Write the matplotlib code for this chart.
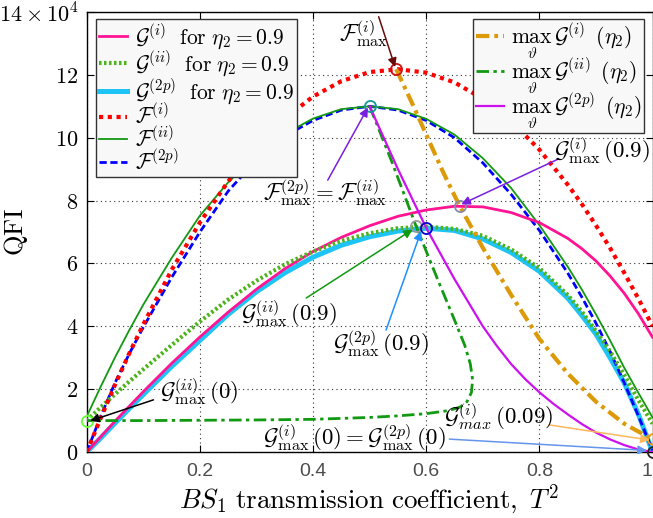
import matplotlib
matplotlib.use("Agg")
import matplotlib.pyplot as plt
from matplotlib.lines import Line2D

# ---------------- data (values in units of 1e4) ----------------
T2 = [0, 0.025, 0.05, 0.075, 0.1, 0.15, 0.2, 0.25, 0.3, 0.35, 0.4, 0.45,
      0.5, 0.55, 0.6, 0.65, 0.7, 0.75, 0.8, 0.85, 0.875, 0.9, 0.925, 0.95, 0.975, 1.0]

F_i = [0, 1.09, 2.14, 3.13, 4.06, 5.79, 7.30, 8.61, 9.71, 10.61, 11.31, 11.80,
       12.09, 12.18, 12.07, 11.76, 11.24, 10.53, 9.62, 8.51, 7.89, 7.21, 6.49, 5.70, 4.88, 4.0]
F_ii = [1.13, 2.09, 3.01, 3.87, 4.69, 6.17, 7.52, 8.58, 9.45, 10.12, 10.61, 10.91,
        11.0, 10.91, 10.6, 10.1, 9.35, 8.4, 7.22, 5.9, 5.17, 4.38, 3.55, 2.68, 1.88, 1.1]
F_2p = [0, 1.15, 2.2, 3.12, 3.97, 5.55, 7.0, 8.3, 9.3, 10.05, 10.55, 10.88,
        11.0, 10.88, 10.55, 10.0, 9.2, 8.2, 7.05, 5.7, 4.93, 4.1, 3.2, 2.2, 1.15, 0.05]

G_i = [0, 0.49, 0.98, 1.45, 1.92, 2.82, 3.66, 4.45, 5.18, 5.83, 6.38, 6.83,
       7.2, 7.5, 7.7, 7.82, 7.8, 7.62, 7.3, 6.8, 6.47, 6.08, 5.6, 5.05, 4.4, 3.65]
G_ii = [1.0, 1.43, 1.84, 2.24, 2.63, 3.4, 4.15, 4.85, 5.45, 5.97, 6.38, 6.72,
        6.96, 7.12, 7.17, 7.1, 6.88, 6.45, 5.85, 5.0, 4.47, 3.85, 3.2, 2.45, 1.65, 0.9]
G_2p = [0, 0.45, 0.92, 1.38, 1.83, 2.72, 3.55, 4.38, 5.1, 5.7, 6.2, 6.58,
        6.85, 7.03, 7.12, 7.05, 6.78, 6.35, 5.75, 4.9, 4.35, 3.75, 3.0, 2.2, 1.2, 0.0]

# maxima over theta as functions of eta_2 (parametric curves)
maxGi_x = [0.547, 0.575, 0.6, 0.63, 0.659, 0.7, 0.75, 0.8, 0.85, 0.9, 0.95, 1.0]
maxGi_y = [12.18, 11.1, 10.1, 8.9, 7.83, 6.5, 5.0, 3.6, 2.5, 1.6, 0.9, 0.4]

maxGii_x = [0.5, 0.54, 0.582, 0.62, 0.65, 0.668, 0.678, 0.682, 0.68, 0.672, 0.66,
            0.64, 0.6, 0.55, 0.5, 0.4, 0.3, 0.2, 0.1, 0.0]
maxGii_y = [11.0, 9.2, 7.19, 5.5, 4.2, 3.4, 2.8, 2.3, 1.9, 1.6, 1.43,
            1.32, 1.22, 1.15, 1.1, 1.04, 1.02, 1.01, 1.0, 1.0]

maxG2p_x = [0.5, 0.55, 0.6, 0.65, 0.7, 0.725, 0.75, 0.775, 0.8, 0.825, 0.85,
            0.875, 0.9, 0.925, 0.95, 0.975, 1.0]
maxG2p_y = [11.0, 9.0, 7.13, 5.5, 4.0, 3.37, 2.8, 2.32, 1.9, 1.53, 1.2,
            0.89, 0.62, 0.4, 0.22, 0.08, 0.0]

# special points
pt_Fi_max = (0.547, 12.18)
pt_Fii_max = (0.5, 11.0)
pt_Gi_09 = (0.659, 7.83)
pt_Gii_09 = (0.582, 7.19)
pt_G2p_09 = (0.6, 7.13)
pt_Gii_0 = (0.0, 1.0)
pt_Gi_0 = (1.0, 0.0)
pt_Gi_009 = (1.0, 0.4)

x_ticks = [0, 0.2, 0.4, 0.6, 0.8, 1.0]
x_ticklabels = ["0", "0.2", "0.4", "0.6", "0.8", "1"]
y_ticks = [0, 2, 4, 6, 8, 10, 12, 14]
y_ticklabels = ["$0$", "$2$", "$4$", "$6$", "$8$", "$10$", "$12$", r"$14\times10^4$"]

# ---------------- styling ----------------
plt.rcParams["mathtext.fontset"] = "cm"
plt.rcParams["font.family"] = ["DejaVu Sans"]

c_pink = "#ff1493"
c_gdot = "#4cb31a"
c_cyan = "#1ec4f5"
c_red = "#ff0000"
c_green = "#119911"
c_blue = "#0000ff"
c_orange = "#dc9a08"
c_violet = "#cc11ee"

fig = plt.figure(figsize=(6.53, 5.18), dpi=100)
ax = fig.add_axes([0.1328, 0.1274, 0.8665, 0.8494])

ls_reddot = (0, (1, 1.1))
ls_gdot = (0, (0.6, 0.6))
ls_blue = (0, (2.6, 1.3))
ls_orange = (0, (3.2, 1.2, 0.9, 1.2))
ls_gdd = (0, (4.5, 1.6, 1.2, 1.6))

ax.plot(T2, G_2p, color=c_cyan, lw=3.6, zorder=3, solid_capstyle="butt")
ax.plot(T2, G_i, color=c_pink, lw=2.0, zorder=4)
ax.plot(T2, G_ii, color=c_gdot, lw=3.0, ls=ls_gdot, zorder=4, dash_capstyle="butt")
ax.plot(T2, F_2p, color=c_blue, lw=2.0, ls=ls_blue, zorder=3)
ax.plot(T2, F_ii, color=c_green, lw=1.3, zorder=3)
ax.plot(T2, F_i, color=c_red, lw=3.0, ls=ls_reddot, zorder=4, dash_capstyle="butt")
ax.plot(maxGi_x, maxGi_y, color=c_orange, lw=3.0, ls=ls_orange, zorder=5)
ax.plot(maxGii_x, maxGii_y, color=c_green, lw=2.0, ls=ls_gdd, zorder=5)
ax.plot(maxG2p_x, maxG2p_y, color=c_violet, lw=1.6, zorder=5)

# markers
mk = dict(marker="o", ms=8, mfc="none", mew=1.3, zorder=8, clip_on=False)
ax.plot(*pt_Fi_max, mec="#cc1111", **mk)
ax.plot(*pt_Fii_max, mec="#119999", **mk)
ax.plot(*pt_Gi_09, mec="#8888aa", **mk)
ax.plot(*pt_Gii_09, mec="#9a9a9a", **mk)
ax.plot(*pt_G2p_09, mec="#0000cc", **mk)
ax.plot(*pt_Gii_0, mec="#66ff33", **mk)
ax.plot(*pt_Gi_0, mec="#222222", **mk)
ax.plot(*pt_Gi_009, mec="#e8a020", **mk)

fs_ann = 16.5


def label(text, xy):
    ax.text(xy[0], xy[1], text, fontsize=fs_ann, ha="center", va="center", zorder=12)


def arrow(tail, head, color):
    ax.annotate("", xy=head, xytext=tail, zorder=9, annotation_clip=False,
                arrowprops=dict(arrowstyle="-|>", color=color, lw=1.1, mutation_scale=13,
                                shrinkA=0, shrinkB=0))


label(r"$\mathcal{F}^{(i)}_{\max}$", (0.49, 13.3))
arrow((0.516, 13.85), (0.545, 12.25), "#6a0a0a")
label(r"$\mathcal{F}^{(2p)}_{\max}=\mathcal{F}^{(ii)}_{\max}$", (0.421, 8.25))
arrow((0.426, 8.65), (0.497, 10.96), "#7a1ee0")
label(r"$\mathcal{G}^{(i)}_{\max}\,(0.9)$", (0.911, 9.6))
arrow((0.832, 9.31), (0.662, 7.88), "#7a1ee0")
label(r"$\mathcal{G}^{(ii)}_{\max}\,(0.9)$", (0.357, 4.4))
arrow((0.388, 4.9), (0.576, 7.08), "#119911")
label(r"$\mathcal{G}^{(2p)}_{\max}\,(0.9)$", (0.521, 3.45))
arrow((0.529, 3.88), (0.591, 7.03), "#1e90ff")
label(r"$\mathcal{G}^{(ii)}_{\max}\,(0)$", (0.198, 1.92))
arrow((0.118, 1.66), (0.006, 0.99), "black")
label(r"$\mathcal{G}^{(i)}_{\max}\,(0)=\mathcal{G}^{(2p)}_{\max}\,(0)$", (0.473, 0.45))
arrow((0.641, 0.41), (0.99, 0.05), "#6495ed")
label(r"$\mathcal{G}_{max}^{(i)}\,(0.09)$", (0.728, 1.12))
arrow((0.818, 0.86), (0.995, 0.38), "#ffb85c")

# axes
ax.set_xlim(0, 1)
ax.set_ylim(0, 14)
ax.set_xticks(x_ticks)
ax.set_xticklabels(x_ticklabels, fontsize=14, color="#4d4d4d", family="Liberation Sans")
ax.get_xticklabels()[-1].set_ha("right")
ax.set_yticks(y_ticks)
ax.set_yticklabels(y_ticklabels, fontsize=16)
ax.tick_params(direction="in", length=5, width=0.8, top=True, right=True)
ax.tick_params(axis="x", pad=8)
ax.tick_params(axis="y", pad=6)
ax.grid(True, ls=(0, (1, 3)), color="#333333", lw=0.8)
for s in ax.spines.values():
    s.set_linewidth(1.0)
ax.set_xlabel(r"$BS_1\ \mathrm{transmission\ coefficient,}\ T^2$", fontsize=19.5, labelpad=2)
ax.set_ylabel(r"$\mathrm{QFI}$", fontsize=19)
ax.yaxis.set_label_coords(-0.1, 0.5)

# legends
h1 = [Line2D([], [], color=c_pink, lw=2.0),
      Line2D([], [], color=c_gdot, lw=3.0, ls=ls_gdot),
      Line2D([], [], color=c_cyan, lw=3.6),
      Line2D([], [], color=c_red, lw=3.0, ls=ls_reddot),
      Line2D([], [], color=c_green, lw=1.3),
      Line2D([], [], color=c_blue, lw=2.0, ls=ls_blue)]
l1 = [r"$\mathcal{G}^{(i)}\ \ \mathrm{for}\ \eta_2=0.9$",
      r"$\mathcal{G}^{(ii)}\ \ \mathrm{for}\ \eta_2=0.9$",
      r"$\mathcal{G}^{(2p)}\ \ \mathrm{for}\ \eta_2=0.9$",
      r"$\mathcal{F}^{(i)}$", r"$\mathcal{F}^{(ii)}$", r"$\mathcal{F}^{(2p)}$"]
leg1 = ax.legend(h1, l1, loc="upper left", bbox_to_anchor=(0.016, 0.984), borderaxespad=0,
                 fontsize=15.5, handlelength=1.3, handletextpad=0.35, labelspacing=-0.08,
                 fancybox=False, framealpha=1, facecolor="#f8f8f8", edgecolor="#333333",
                 borderpad=0.15)
leg1.get_frame().set_linewidth(1.0)
leg1.set_zorder(10)
ax.add_artist(leg1)

h2 = [Line2D([], [], color=c_orange, lw=3.0, ls=ls_orange),
      Line2D([], [], color=c_green, lw=2.0, ls=ls_gdd),
      Line2D([], [], color=c_violet, lw=1.6)]
l2 = [r"$\max_{\vartheta}\,\mathcal{G}^{(i)}\ (\eta_2)$",
      r"$\max_{\vartheta}\,\mathcal{G}^{(ii)}\ (\eta_2)$",
      r"$\max_{\vartheta}\,\mathcal{G}^{(2p)}\ (\eta_2)$"]
leg2 = ax.legend(h2, l2, loc="upper right", bbox_to_anchor=(0.985, 0.984), borderaxespad=0,
                 fontsize=15.5, handlelength=1.3, handletextpad=0.35, labelspacing=-0.2,
                 fancybox=False, framealpha=1, facecolor="#f8f8f8", edgecolor="#333333",
                 borderpad=0.1)
leg2.get_frame().set_linewidth(1.0)
leg2.set_zorder(10)

fig.savefig("out.png", dpi=100)
